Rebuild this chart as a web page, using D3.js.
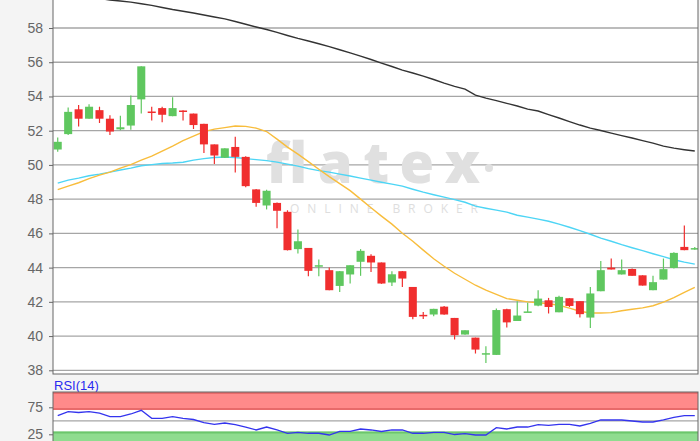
<!DOCTYPE html>
<html>
<head>
<meta charset="utf-8">
<script src="https://cdn.jsdelivr.net/npm/d3@7"></script>
<style>
  body { margin: 0; background: #f4f4f4; }
  svg { display: block; font-family: "Liberation Sans", Arial, sans-serif; }
</style>
</head>
<body>
<div id="chart"></div>
<script>
var svgWidth = 700;
var svgHeight = 441;

// OHLC, one entry per trading day
var open  = [50.9,51.8,53.25,52.7,53.2,52.7,52.08,52.3,53.83,53.12,53.32,52.85,53.18,53.0,52.4,51.2,50.42,51.05,50.47,48.57,
             47.63,47.78,47.26,45.08,45.15,44.1,43.85,42.93,43.6,44.34,44.69,44.3,43.13,43.79,42.87,41.24,41.26,41.72,41.06,40.09,
             39.91,38.96,38.9,41.57,40.88,41.4,41.78,42.09,41.39,42.21,42.04,41.08,42.62,44.0,43.6,43.92,43.55,42.68,43.3,43.98,
             45.21,45.1];
var high  = [51.6,53.35,53.5,53.55,53.4,52.9,52.87,54.05,55.76,53.4,53.4,53.95,53.2,53.0,52.4,51.2,50.97,51.65,50.5,48.6,
             48.55,47.8,47.35,46.23,45.15,44.47,44.0,43.8,44.14,45.08,44.78,44.3,43.79,43.8,42.87,41.4,41.6,41.75,41.06,40.34,
             39.91,39.4,41.61,41.6,42.04,41.94,42.68,42.23,42.35,42.21,42.04,42.87,44.39,44.53,44.47,43.95,43.55,43.52,44.53,44.9,
             46.46,45.2];
var low   = [50.77,51.75,52.25,52.7,52.45,51.75,52.03,52.05,53.0,52.6,52.5,52.85,52.6,52.1,50.7,50.05,50.4,49.55,48.7,47.55,
             47.4,46.3,45.0,44.82,43.5,43.5,42.68,42.58,43.07,43.52,43.75,43.05,42.93,42.87,40.98,41.0,41.16,41.25,39.8,40.08,
             38.98,38.43,38.9,40.5,40.88,41.4,41.74,41.32,41.39,41.7,41.08,40.47,42.62,43.89,43.6,43.52,42.95,42.68,43.3,43.95,
             45.02,45.05];
var close = [51.35,53.1,52.7,53.4,52.7,51.95,52.2,53.5,55.76,53.08,52.93,53.32,53.1,52.33,51.2,50.55,50.97,50.47,48.76,47.78,
             48.49,47.32,45.02,45.54,43.81,44.14,42.68,43.79,44.14,44.98,44.3,43.07,43.61,43.36,41.12,41.2,41.59,41.26,40.05,40.34,
             39.21,39.0,41.52,40.8,41.2,41.44,42.19,41.7,42.29,41.76,41.28,42.49,43.85,43.89,43.85,43.52,42.95,43.15,43.91,44.86,
             45.02,45.14];

// moving averages
var maLong = [60.1,60.0,59.9,59.8,59.72,59.64,59.58,59.51,59.42,59.32,59.2,59.08,58.98,58.88,58.76,58.64,58.53,58.38,58.22,58.06,
              57.91,57.74,57.56,57.39,57.24,57.08,56.91,56.73,56.55,56.36,56.16,55.95,55.75,55.54,55.37,55.19,54.99,54.78,54.59,54.43,
              54.08,53.9,53.76,53.6,53.44,53.26,53.15,52.94,52.74,52.53,52.33,52.15,52.01,51.86,51.71,51.57,51.42,51.27,51.1,50.98,
              50.89,50.81];
var maMid  = [48.94,49.11,49.23,49.37,49.46,49.58,49.7,49.81,49.95,50.02,50.08,50.11,50.16,50.28,50.37,50.43,50.46,50.43,50.37,50.31,
              50.25,50.16,50.05,49.93,49.78,49.67,49.58,49.46,49.35,49.23,49.11,48.99,48.88,48.76,48.58,48.41,48.26,48.12,47.97,47.82,
              47.59,47.47,47.36,47.24,47.06,46.95,46.83,46.71,46.54,46.36,46.16,45.95,45.72,45.54,45.34,45.16,44.99,44.81,44.64,44.46,
              44.32,44.2];
var maShort = [48.56,48.76,48.96,49.2,49.4,49.58,49.81,50.02,50.28,50.51,50.81,51.1,51.42,51.68,51.95,52.09,52.18,52.27,52.25,52.15,
               51.95,51.51,51.04,50.63,50.19,49.75,49.32,48.91,48.5,48.0,47.5,47.01,46.54,46.01,45.54,45.02,44.52,44.08,43.67,43.32,
               42.97,42.68,42.44,42.19,42.09,42.0,41.95,41.89,41.8,41.63,41.45,41.35,41.35,41.37,41.48,41.57,41.65,41.77,41.98,42.24,
               42.56,42.85];

var rsi = [59.4,66.9,65.4,66.9,64.4,57.6,57.6,62.6,69.4,54.6,54.6,57.6,54.6,52.4,46.5,43.5,45.9,43.1,38.5,33.0,
           38.5,33.0,26.9,28.7,26.9,26.9,23.7,30.6,30.6,34.8,33.0,30.2,33.0,33.0,26.9,26.9,28.7,28.7,24.6,26.1,
           23.7,23.7,37.2,34.8,38.5,38.5,42.8,41.7,43.5,43.5,40.4,45.4,51.5,51.5,51.5,49.6,47.8,47.8,51.5,56.5,
           59.4,59.4];

var priceTicks = [38,40,42,44,46,48,50,52,54,56,58];
var rsiTicks = [25,75];
var rsiBands = {over: 70, under: 30};

var days = d3.range(close.length);

var plot = {left: 53, right: 698, top: 0, bottom: 374};
var rsiPlot = {top: 392, bottom: 442};

var svg = d3.select("#chart")
    .append("svg")
    .attr("width", svgWidth)
    .attr("height", svgHeight);

svg.append("rect")
    .attr("width", svgWidth)
    .attr("height", svgHeight)
    .attr("fill", "#f4f4f4");

var xScale = d3.scalePoint()
    .domain(days)
    .range([52.5, 700])
    .padding(0.5);
var bodyW = xScale.step() * 0.77;

var yScale = d3.scaleLinear()
    .domain([38, 58])
    .range([370.3, 28]);

var rScale = d3.scaleLinear()
    .domain([25, 75])
    .range([434.3, 407.3]);

var defs = svg.append("defs");
defs.append("clipPath").attr("id", "clipMain")
    .append("rect")
    .attr("x", plot.left).attr("y", plot.top)
    .attr("width", plot.right - plot.left).attr("height", plot.bottom - plot.top);
defs.append("clipPath").attr("id", "clipRsi")
    .append("rect")
    .attr("x", plot.left).attr("y", rsiPlot.top)
    .attr("width", plot.right - plot.left).attr("height", rsiPlot.bottom - rsiPlot.top);

// ---- main panel ----
var main = svg.append("g");

main.append("rect")
    .attr("x", plot.left).attr("y", plot.top)
    .attr("width", plot.right - plot.left).attr("height", plot.bottom - plot.top)
    .attr("fill", "#fff");

main.selectAll(".grid")
    .data(priceTicks)
    .enter()
    .append("line")
    .classed("grid", true)
    .attr("x1", plot.left).attr("x2", plot.right)
    .attr("y1", d => yScale(d)).attr("y2", d => yScale(d))
    .attr("stroke", "#a6a6a6")
    .attr("stroke-width", 1.3);

// watermark
main.append("text")
    .attr("x", 266).attr("y", 183)
    .attr("textLength", 214)
    .attr("lengthAdjust", "spacing")
    .attr("font-family", "'Open Sans', sans-serif")
    .attr("font-weight", 800)
    .attr("font-size", 56)
    .attr("fill", "#e0e0e0")
    .text("flatex");
main.append("circle")
    .attr("cx", 489).attr("cy", 168).attr("r", 4)
    .attr("fill", "#e0e0e0");
main.append("text")
    .attr("x", 290).attr("y", 213)
    .attr("textLength", 188)
    .attr("lengthAdjust", "spacing")
    .attr("font-family", "'Open Sans', sans-serif")
    .attr("font-size", 12)
    .attr("fill", "#dedede")
    .text("ONLINE BROKER");

var marks = main.append("g").attr("clip-path", "url(#clipMain)");

var line = d3.line()
    .x((d, i) => xScale(i))
    .y(d => yScale(d));

marks.append("path").datum(maLong)
    .attr("d", line).attr("fill", "none")
    .attr("stroke", "#333").attr("stroke-width", 1.4);
marks.append("path").datum(maMid)
    .attr("d", line).attr("fill", "none")
    .attr("stroke", "#4dd5f5").attr("stroke-width", 1.4);
marks.append("path").datum(maShort)
    .attr("d", line).attr("fill", "none")
    .attr("stroke", "#f8bd3c").attr("stroke-width", 1.4);

var candleColor = function(i) { return close[i] >= open[i] ? "#5fc75f" : "#f02e2e"; };

var candles = marks.selectAll(".candle")
    .data(days)
    .enter()
    .append("g")
    .classed("candle", true);

candles.append("line")
    .attr("x1", i => xScale(i)).attr("x2", i => xScale(i))
    .attr("y1", i => yScale(high[i])).attr("y2", i => yScale(low[i]))
    .attr("stroke", candleColor)
    .attr("stroke-width", 1.2);

candles.append("rect")
    .attr("x", i => xScale(i) - bodyW / 2)
    .attr("width", bodyW)
    .attr("y", i => yScale(Math.max(open[i], close[i])))
    .attr("height", i => Math.max(1.5, Math.abs(yScale(open[i]) - yScale(close[i]))))
    .attr("fill", candleColor);

// axis + frame
var yAxis = main.append("g")
    .attr("transform", "translate(" + plot.left + ",0)")
    .call(d3.axisLeft(yScale).tickValues(priceTicks).tickSize(4).tickPadding(6));
yAxis.select(".domain").remove();
yAxis.selectAll("line").attr("stroke", "#666");
yAxis.selectAll("text")
    .attr("font-size", 14)
    .attr("fill", "#666")
    .attr("font-family", "'Liberation Sans', Arial, sans-serif");

main.append("rect")
    .attr("x", plot.left).attr("y", -1)
    .attr("width", plot.right - plot.left).attr("height", plot.bottom + 1)
    .attr("fill", "none")
    .attr("stroke", "#666");

// ---- RSI panel ----
var rsiG = svg.append("g");

rsiG.append("text")
    .attr("x", 54).attr("y", 390)
    .attr("font-size", 13)
    .attr("fill", "#2a2af0")
    .text("RSI(14)");

rsiG.append("rect")
    .attr("x", plot.left).attr("y", rsiPlot.top)
    .attr("width", plot.right - plot.left).attr("height", rsiPlot.bottom - rsiPlot.top)
    .attr("fill", "#fff");

var rsiInner = rsiG.append("g").attr("clip-path", "url(#clipRsi)");

rsiInner.append("rect")
    .attr("x", plot.left).attr("y", rsiPlot.top)
    .attr("width", plot.right - plot.left)
    .attr("height", rScale(rsiBands.over) - rsiPlot.top)
    .attr("fill", "#ff8a8a");
rsiInner.append("line")
    .attr("x1", plot.left).attr("x2", plot.right)
    .attr("y1", rScale(rsiBands.over) - 1).attr("y2", rScale(rsiBands.over) - 1)
    .attr("stroke", "#e86a6a").attr("stroke-width", 2);
rsiInner.append("line")
    .attr("x1", plot.left).attr("x2", plot.right)
    .attr("y1", rsiPlot.top + 1).attr("y2", rsiPlot.top + 1)
    .attr("stroke", "#e86a6a").attr("stroke-width", 2);

rsiInner.append("rect")
    .attr("x", plot.left).attr("y", rScale(rsiBands.under))
    .attr("width", plot.right - plot.left)
    .attr("height", rsiPlot.bottom - rScale(rsiBands.under))
    .attr("fill", "#8fdc8f");
rsiInner.append("line")
    .attr("x1", plot.left).attr("x2", plot.right)
    .attr("y1", rScale(rsiBands.under) + 1).attr("y2", rScale(rsiBands.under) + 1)
    .attr("stroke", "#6cc66c").attr("stroke-width", 2);

rsiInner.append("line")
    .attr("x1", plot.left).attr("x2", plot.right)
    .attr("y1", rScale(50)).attr("y2", rScale(50))
    .attr("stroke", "#a6a6a6").attr("stroke-width", 1.3);

rsiInner.append("path").datum(rsi)
    .attr("d", d3.line().x((d, i) => xScale(i)).y(d => rScale(d)))
    .attr("fill", "none")
    .attr("stroke", "#3434ee")
    .attr("stroke-width", 1.3);

var rAxis = rsiG.append("g")
    .attr("transform", "translate(" + plot.left + ",0)")
    .call(d3.axisLeft(rScale).tickValues(rsiTicks).tickSize(4).tickPadding(6));
rAxis.select(".domain").remove();
rAxis.selectAll("line").attr("stroke", "#666");
rAxis.selectAll("text")
    .attr("font-size", 14)
    .attr("fill", "#666")
    .attr("font-family", "'Liberation Sans', Arial, sans-serif");

rsiG.append("rect")
    .attr("x", plot.left).attr("y", rsiPlot.top)
    .attr("width", plot.right - plot.left).attr("height", rsiPlot.bottom - rsiPlot.top)
    .attr("fill", "none")
    .attr("stroke", "#666");
</script>
</body>
</html>
